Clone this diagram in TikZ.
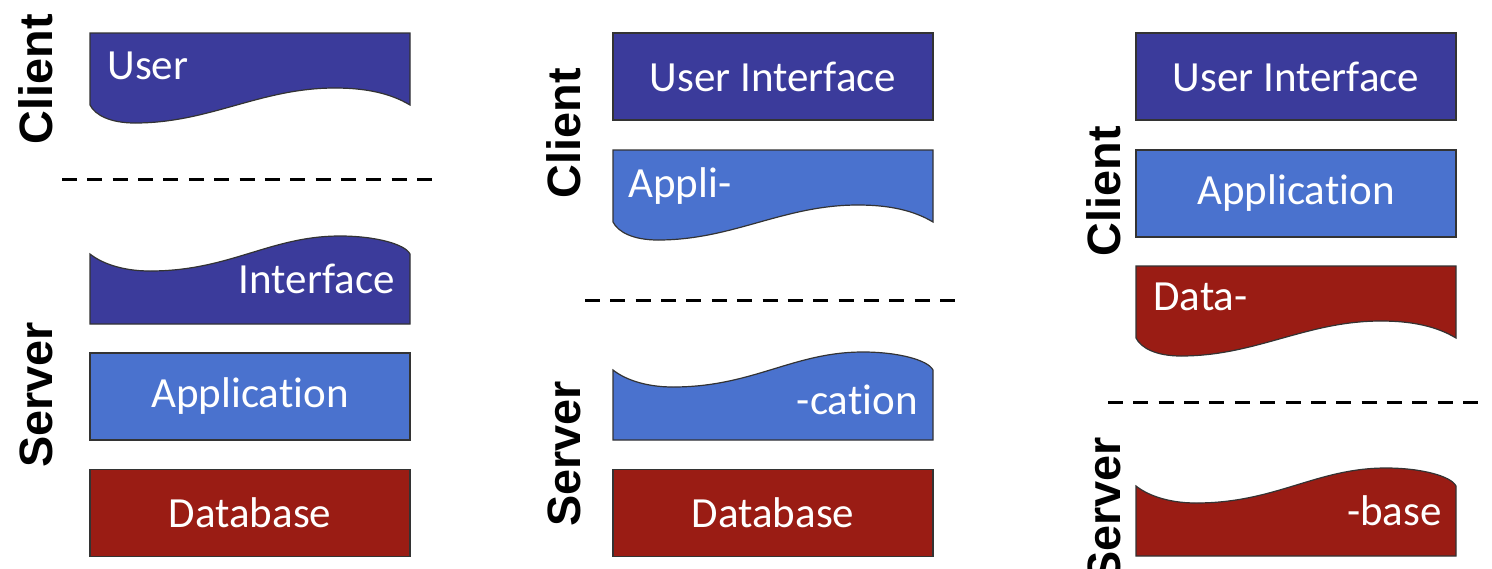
\documentclass[tikz,border=0pt]{standalone}
\usepackage{fontspec}
\setmainfont{Carlito}[Ligatures=CommonOff]
\newfontfamily\sidefamily{Liberation Sans}
\usetikzlibrary{positioning}

\definecolor{uiblue}{RGB}{59,59,155}
\definecolor{appblue}{RGB}{74,114,206}
\definecolor{dbred}{RGB}{154,28,20}

\newcommand{\boxfont}{\fontsize{21.5}{25}\selectfont}
\newcommand{\sidefont}{\sidefamily\bfseries\fontsize{23.4}{28}\selectfont}

\tikzset{
  layer/.style={draw=black!80, line width=0.6pt},
  fullbox/.style={layer, minimum width=160pt, minimum height=43.5pt, inner sep=0pt, text=white, font=\boxfont},
  boxtext/.style={text=white, font=\boxfont, inner sep=0pt},
  side/.style={font=\sidefont, rotate=90, anchor=base, inner sep=0pt},
  divider/.style={dash pattern=on 7.5pt off 5.18pt, line width=1.5pt},
  % box cut by a wave at the bottom, origin top left
  pics/lowwave/.style={code={
    \path[layer, fill=#1] (0,0) -- (320,0) -- (320,72)
      .. controls (300,60) and (275,55) .. (245,55)
      .. controls (170,55) and (120,90) .. (45,90)
      .. controls (20,90) and (5,82) .. (0,72) -- cycle;}},
  % box cut by a wave at the top, origin bottom left
  pics/highwave/.style={code={
    \path[layer, fill=#1] (0,0) -- (0,-70)
      .. controls (10,-62) and (30,-53) .. (60,-53)
      .. controls (140,-53) and (180,-88) .. (250,-88)
      .. controls (285,-88) and (315,-80) .. (320,-70) -- (320,0) -- cycle;}}
}

\begin{document}
\begin{tikzpicture}[x=0.5pt, y=-0.5pt]
  \clip (0,0) rectangle (1492,568);

  % first column
  \pic at (90,33) {lowwave=uiblue};
  \node[boxtext, anchor=base west] (user1) at (107,79) {User};
  \draw[divider] (62,179) -- (432,179);
  \pic at (90,324) {highwave=uiblue};
  \node[boxtext, anchor=base east] (iface1) at (395,293) {Interface};
  \node[fullbox, fill=appblue] (app1) at (250,396.5) {Application};
  \node[fullbox, fill=dbred] (db1) at (250,513) {Database};
  \node[side] (client1) at (52,79) {Client};
  \node[side] (server1) at (52,395) {Server};

  % second column
  \node[fullbox, fill=uiblue] (ui2) at (773,76.5) {User Interface};
  \pic at (613,150) {lowwave=appblue};
  \node[boxtext, anchor=base west] (appli2) at (628,197) {Appli-};
  \draw[divider] (585,300) -- (955,300);
  \pic at (613,440) {highwave=appblue};
  \node[boxtext, anchor=base east] (cation2) at (918,414) {-cation};
  \node[fullbox, fill=dbred] (db2) at (773,513) {Database};
  \node[side] (client2) at (580,133) {Client};
  \node[side] (server2) at (580,454) {Server};

  % third column
  \node[fullbox, fill=uiblue] (ui3) at (1296,76.5) {User Interface};
  \node[fullbox, fill=appblue] (app3) at (1296,193.5) {Application};
  \pic at (1136,266) {lowwave=dbred};
  \node[boxtext, anchor=base west] (data3) at (1153,310) {Data-};
  \draw[divider] (1108,402) -- (1478,402);
  \pic at (1136,556) {highwave=dbred};
  \node[boxtext, anchor=base east] (base3) at (1442,525) {-base};
  \node[side] (client3) at (1120,191) {Client};
  \node[side] (server3) at (1120,510) {Server};
\end{tikzpicture}
\end{document}
